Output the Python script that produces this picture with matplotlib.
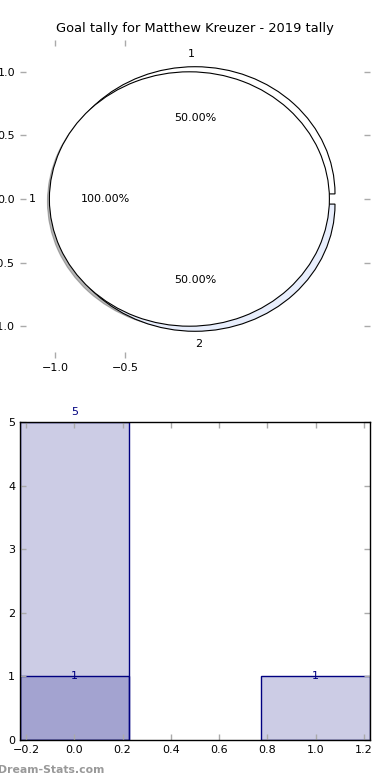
import matplotlib
matplotlib.use('Agg')
import matplotlib.pyplot as plt

title = 'Goal tally for Matthew Kreuzer - 2019 tally'

# top: nested pies
inner_sizes = [1]
inner_labels = ['1']
outer_sizes = [1, 1]
outer_labels = ['1', '2']

# bottom: overlaid bars
bar_x = [0, 1]
bar_total = [5, 1]
bar_part = [1, 0]

fig = plt.figure(figsize=(3.9, 7.8), dpi=100)

# pie axes
ax1 = fig.add_axes([20/390, 1 - 358/780, 350/390, 318/780])
ax1.pie(outer_sizes, labels=outer_labels, explode=[0.04, 0.04], autopct='%1.2f%%',
        colors=['white', '#e8eefc'], wedgeprops=dict(edgecolor='black', linewidth=0.8),
        textprops=dict(fontsize=8))
ax1.pie(inner_sizes, labels=inner_labels, explode=[0.04], autopct='%1.2f%%',
        shadow={'ox': -0.01, 'oy': -0.015, 'alpha': 0.4},
        colors=['white'], wedgeprops=dict(edgecolor='black', linewidth=0.8),
        textprops=dict(fontsize=8))
ax1.set_aspect('auto')
ax1.set_xlim(-1.25, 1.25)
ax1.set_ylim(-1.25, 1.25)
ax1.set_frame_on(False)
ax1.set_xticks([-1.0, -0.5])
ax1.set_yticks([-1.0, -0.5, 0.0, 0.5, 1.0])
ax1.tick_params(direction='in', color='#aaaaaa', labelsize=8, length=4, width=1,
                top=True, right=True)
ax1.set_title(title, fontsize=9.4)

# bar axes
ax2 = fig.add_axes([20/390, 40/780, 350/390, 318/780])
ax2.bar(bar_x, bar_total, width=0.45, color='navy', alpha=0.2, edgecolor='none')
ax2.bar(bar_x, bar_part, width=0.45, color='navy', alpha=0.2, edgecolor='none')
ax2.bar(bar_x, bar_total, width=0.45, fill=False, edgecolor='navy', linewidth=1)
ax2.bar(bar_x[:1], bar_part[:1], width=0.45, fill=False, edgecolor='navy', linewidth=1)
ax2.set_xlim(-0.225, 1.225)
ax2.set_ylim(0, max(bar_total))
ymax = max(bar_total)
for x, h in zip(bar_x, bar_total):
    ax2.annotate(str(h), (x, h), xytext=(0, 7 if h == ymax else 0), textcoords='offset points',
                 ha='center', va='center', color='navy', fontsize=8)
for x, h in zip(bar_x, bar_part):
    if h > 0:
        ax2.annotate(str(h), (x, h), ha='center', va='center', color='navy', fontsize=8)
ax2.set_xticks([-0.2, 0.0, 0.2, 0.4, 0.6, 0.8, 1.0, 1.2])
ax2.tick_params(direction='in', color='#aaaaaa', labelsize=8, length=4, width=1,
                top=True, right=True)
for s in ax2.spines.values():
    s.set_linewidth(1)

fig.text(-0.005, 0.006, 'Dream-Stats.com', color='#999999', fontsize=7.8, fontweight='bold',
         ha='left', va='bottom')

fig.savefig('out.png', dpi=100)
